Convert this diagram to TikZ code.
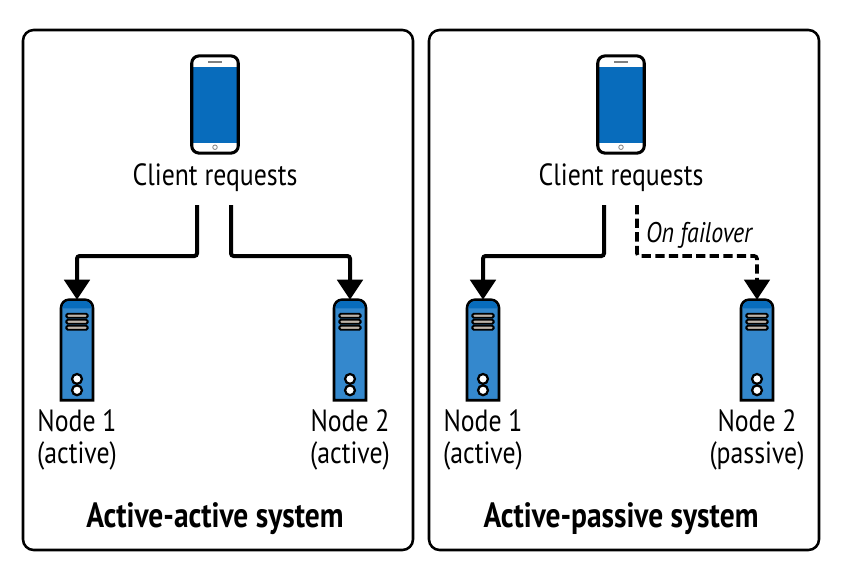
\documentclass[tikz,border=0pt]{standalone}
\usepackage{fontspec}
\setmainfont[FakeStretch=0.84]{PT Sans}
\usepackage{xcolor}
\usetikzlibrary{arrows.meta,positioning}
\definecolor{screenblue}{RGB}{8,108,188}
\definecolor{towerblue}{RGB}{52,136,205}
\definecolor{bargray}{RGB}{190,180,170}

% tower shape, drawn on top of an empty node
\newcommand{\drawtower}[1]{
    \draw[line width=2pt, fill=towerblue] (#1.south west) -- ([yshift=-6pt]#1.north west) to[out=90,in=180] ([xshift=6pt]#1.north west) -- ([xshift=-6pt]#1.north east) to[out=0,in=90] ([yshift=-6pt]#1.north east) -- (#1.south east) -- cycle;
    \fill[screenblue] ([shift={(1pt,-6.5pt)}]#1.north west) to[out=90,in=180] ([shift={(6pt,-1pt)}]#1.north west) -- ([shift={(-6pt,-1pt)}]#1.north east) to[out=0,in=90] ([shift={(-1pt,-6.5pt)}]#1.north east) -- cycle;
    \foreach \barshift in {-10.5pt,-15pt,-19.5pt}
        \draw[line width=1.4pt, fill=bargray, rounded corners=1pt] ([shift={(4pt,\barshift)}]#1.north west) rectangle ([shift={(-4pt,\barshift-3pt)}]#1.north east);
    \foreach \holeshift in {16pt,7.5pt}
        \draw[line width=1.7pt, fill=white] ([yshift=\holeshift]#1.south) circle (3.7pt);
}
% phone shape, drawn on top of a rounded node
\newcommand{\drawphone}[1]{
    \fill[screenblue] ([shift={(1pt,-8.5pt)}]#1.north west) rectangle ([shift={(-1pt,7.5pt)}]#1.south east);
    \draw[line width=0.6pt, draw=gray, fill=bargray] ([yshift=-4.5pt]#1.north) ++(-5pt,-0.7pt) rectangle ++(10pt,1.4pt);
    \draw[line width=0.6pt, draw=gray] ([yshift=4.4pt]#1.south) circle (1.7pt);
    \draw[line width=2.3pt, rounded corners=5.5pt] (#1.south west) rectangle (#1.north east);
}

\begin{document}
\begin{tikzpicture}[
    x=0.75pt, y=-0.75pt,
    font=\fontsize{23}{24.7}\selectfont,
    panel/.style={rectangle, draw, line width=1.9pt, rounded corners=8pt, minimum width=292.5pt, minimum height=390pt},
    phone/.style={rectangle, inner sep=0pt, minimum width=34.5pt, minimum height=72.5pt},
    tower/.style={rectangle, inner sep=0pt, minimum width=23.5pt, minimum height=75pt},
    label/.style={align=center, inner sep=0pt},
    heading/.style={inner sep=0pt, font=\fontsize{26.3}{28}\selectfont\bfseries},
    arrow/.style={-{Triangle[length=15pt,width=19pt]}, line width=3pt, rounded corners=2pt},
    failarrow/.style={arrow, line width=2.7pt, dash pattern=on 7pt off 3.2pt}
]
    \useasboundingbox (0,0) rectangle (842,575);
    \fill[white] (0,0) rectangle (842,575);

    % Left panel
    \node[panel] (leftpanel) at (218,290) {};
    \node[phone] (leftphone) at (215,104.5) {};
    \node[label, below=8pt of leftphone] (leftclient) {Client requests};
    \node[tower] (leftnodea) at (77,350) {};
    \node[tower] (leftnodeb) at (350,350) {};
    \node[label, below=6.5pt of leftnodea] (leftnodealabel) {Node 1\\(active)};
    \node[label, below=6.5pt of leftnodeb] (leftnodeblabel) {Node 2\\(active)};
    \node[heading] (lefttitle) at (215,519) {Active-active system};

    % Right panel
    \node[panel] (rightpanel) at (624,290) {};
    \node[phone] (rightphone) at (621,104.5) {};
    \node[label, below=8pt of rightphone] (rightclient) {Client requests};
    \node[tower] (rightnodea) at (483,350) {};
    \node[tower] (rightnodeb) at (757,350) {};
    \node[label, below=6.5pt of rightnodea] (rightnodealabel) {Node 1\\(active)};
    \node[label, below=6.5pt of rightnodeb] (rightnodeblabel) {Node 2\\(passive)};
    \node[heading] (righttitle) at (621,519) {Active-passive system};
    \node[label, font=\fontsize{21.3}{24}\selectfont\itshape] (failover) at (699,235) {On failover};

    % Icons
    \drawphone{leftphone}
    \drawphone{rightphone}
    \drawtower{leftnodea}
    \drawtower{leftnodeb}
    \drawtower{rightnodea}
    \drawtower{rightnodeb}

    % Arrows
    \coordinate (leftouta) at (197,205);
    \coordinate (leftoutb) at (231,205);
    \coordinate (rightouta) at (604,205);
    \coordinate (rightoutb) at (637,205);
    \draw[arrow] (leftouta) -- ++(0,51) -| (leftnodea.north);
    \draw[arrow] (leftoutb) -- ++(0,51) -| (leftnodeb.north);
    \draw[arrow] (rightouta) -- ++(0,51) -| (rightnodea.north);
    \draw[failarrow] (rightoutb) -- ++(0,51) -| (rightnodeb.north);

\end{tikzpicture}
\end{document}
